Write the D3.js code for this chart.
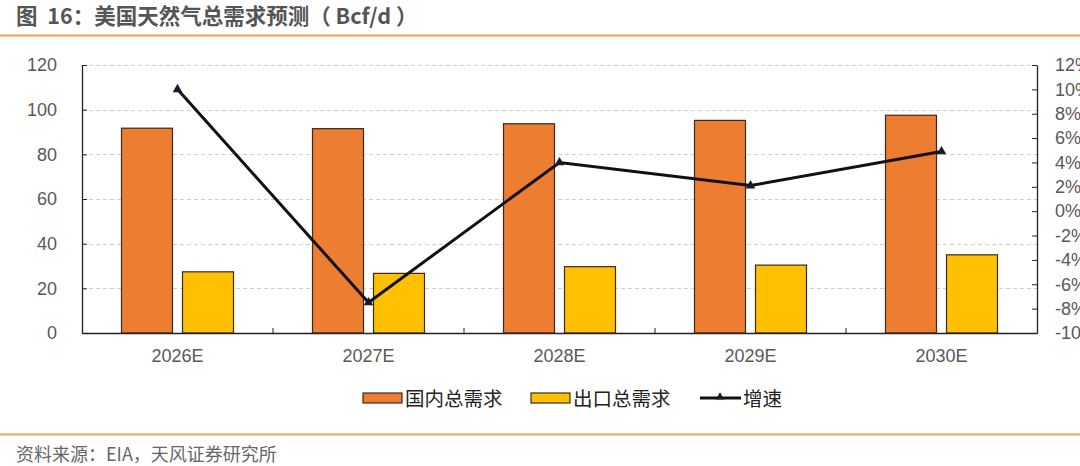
<!DOCTYPE html>
<html>
<head>
<meta charset="utf-8">
<script src="https://cdn.jsdelivr.net/npm/d3@7/dist/d3.min.js"></script>
<style>
  body { margin: 0; background: #fff; }
  svg { display: block; font-family: "Microsoft YaHei", "Noto Sans CJK SC", sans-serif; }
</style>
</head>
<body>
<div id="chart"></div>
<script>
// data
var years = ["2026E", "2027E", "2028E", "2029E", "2030E"];
var domestic = [91.7, 91.5, 93.7, 95.2, 97.5];
var exports = [27.4, 26.7, 29.7, 30.4, 35.0];
var growth = [10.0, -7.5, 4.0, 2.1, 4.9];
var leftTicks = [0, 20, 40, 60, 80, 100, 120];
var rightTicks = [-10, -8, -6, -4, -2, 0, 2, 4, 6, 8, 10, 12];

const W = 1080, H = 466;
const plot = {left: 82, right: 1037, top: 65, bottom: 333};
var orange = "#ED7D31", yellow = "#FFC000", barStroke = "#3b2a1c";
var labelColor = "#595959";

var svg = d3.select("#chart").append("svg")
    .attr("width", W)
    .attr("height", H);

// title and rules
svg.append("text")
    .attr("x", 16).attr("y", 24)
    .attr("font-size", 21.5).attr("font-weight", "bold")
    .attr("fill", "#555")
    .attr("xml:space", "preserve")
    .text("图  16：美国天然气总需求预测（ Bcf/d ）");

svg.append("line")
    .attr("x1", 0).attr("x2", W).attr("y1", 35.5).attr("y2", 35.5)
    .attr("stroke", "#E9A45A").attr("stroke-width", 2);

svg.append("line")
    .attr("x1", 0).attr("x2", W).attr("y1", 434.5).attr("y2", 434.5)
    .attr("stroke", "#E9A45A").attr("stroke-width", 2);

svg.append("text")
    .attr("x", 16).attr("y", 461)
    .attr("font-size", 18).attr("fill", "#666")
    .text("资料来源：EIA，天风证券研究所");

// scales
var x = d3.scaleBand().domain(years).range([plot.left, plot.right]);
var y = d3.scaleLinear().domain([0, 120]).range([plot.bottom, plot.top]);
var y2 = d3.scaleLinear().domain([-10, 12]).range([plot.bottom, plot.top]);

// gridlines
svg.append("g").selectAll("line")
    .data(leftTicks.filter(function(d) { return d > 0; }))
    .enter().append("line")
    .attr("x1", plot.left).attr("x2", plot.right)
    .attr("y1", function(d) { return Math.round(y(d)) + 0.5; })
    .attr("y2", function(d) { return Math.round(y(d)) + 0.5; })
    .attr("stroke", "#cfcfcf")
    .attr("stroke-dasharray", "4,3");

// bars
var barW = 51, gap = 10;
var bars = svg.append("g");
bars.selectAll(".dom")
    .data(domestic)
    .enter().append("rect")
    .attr("class", "dom")
    .attr("x", function(d, i) { return x(years[i]) + x.bandwidth() / 2 - gap / 2 - barW; })
    .attr("y", function(d) { return y(d); })
    .attr("width", barW)
    .attr("height", function(d) { return plot.bottom - y(d); })
    .attr("fill", orange)
    .attr("stroke", barStroke).attr("stroke-width", 1.2);

bars.selectAll(".exp")
    .data(exports)
    .enter().append("rect")
    .attr("class", "exp")
    .attr("x", function(d, i) { return x(years[i]) + x.bandwidth() / 2 + gap / 2; })
    .attr("y", function(d) { return y(d); })
    .attr("width", barW)
    .attr("height", function(d) { return plot.bottom - y(d); })
    .attr("fill", yellow)
    .attr("stroke", barStroke).attr("stroke-width", 1.2);

// axes
var leftAxis = d3.axisLeft(y).tickValues(leftTicks).tickSizeInner(-5).tickSizeOuter(0).tickPadding(25);
var gl = svg.append("g").attr("transform", `translate(${plot.left},0)`).call(leftAxis);

var rightAxis = d3.axisRight(y2).tickValues(rightTicks).tickSizeInner(-5).tickSizeOuter(0)
    .tickPadding(18).tickFormat(function(d) { return d + "%"; });
var gr = svg.append("g").attr("transform", `translate(${plot.right},0)`).call(rightAxis);

var bottomAxis = d3.axisBottom(x).tickSize(0).tickPadding(16);
var gb = svg.append("g").attr("transform", `translate(0,${plot.bottom})`).call(bottomAxis);

// small inner ticks between categories
svg.append("g").selectAll("line")
    .data(years.slice(1))
    .enter().append("line")
    .attr("x1", function(d) { return x(d); })
    .attr("x2", function(d) { return x(d); })
    .attr("y1", plot.bottom).attr("y2", plot.bottom - 5)
    .attr("stroke", "#222");

[gl, gr, gb].forEach(function(g) {
    g.select(".domain").attr("stroke", "#222").attr("stroke-width", 1.3);
    g.selectAll(".tick line").attr("stroke", "#222");
    g.selectAll("text").attr("fill", labelColor).attr("font-size", 18)
        .attr("font-family", "Arial, 'Liberation Sans', sans-serif");
});

// growth line
var line = d3.line()
    .x(function(d, i) { return x(years[i]) + x.bandwidth() / 2; })
    .y(function(d) { return y2(d); });

svg.append("path")
    .datum(growth)
    .attr("d", line)
    .attr("fill", "none")
    .attr("stroke", "#111")
    .attr("stroke-width", 3);

var tri = d3.symbol().type(d3.symbolTriangle).size(40);
svg.append("g").selectAll("path")
    .data(growth)
    .enter().append("path")
    .attr("transform", function(d, i) { return `translate(${x(years[i]) + x.bandwidth() / 2},${y2(d)})`; })
    .attr("d", tri)
    .attr("fill", "#1a1a2a");

// legend
var legend = svg.append("g").attr("font-size", 19.5).attr("fill", "#222");
legend.append("rect").attr("x", 363).attr("y", 393).attr("width", 39).attr("height", 10)
    .attr("fill", orange).attr("stroke", barStroke).attr("stroke-width", 1.2);
legend.append("text").attr("x", 405).attr("y", 406).text("国内总需求");
legend.append("rect").attr("x", 531).attr("y", 393).attr("width", 39).attr("height", 10)
    .attr("fill", yellow).attr("stroke", barStroke).attr("stroke-width", 1.2);
legend.append("text").attr("x", 573).attr("y", 406).text("出口总需求");
legend.append("line").attr("x1", 700).attr("x2", 741).attr("y1", 398).attr("y2", 398)
    .attr("stroke", "#111").attr("stroke-width", 3);
legend.append("path").attr("transform", "translate(720,397)")
    .attr("d", d3.symbol().type(d3.symbolTriangle).size(30)).attr("fill", "#1a1a2a");
legend.append("text").attr("x", 743).attr("y", 406).text("增速");
</script>
</body>
</html>
